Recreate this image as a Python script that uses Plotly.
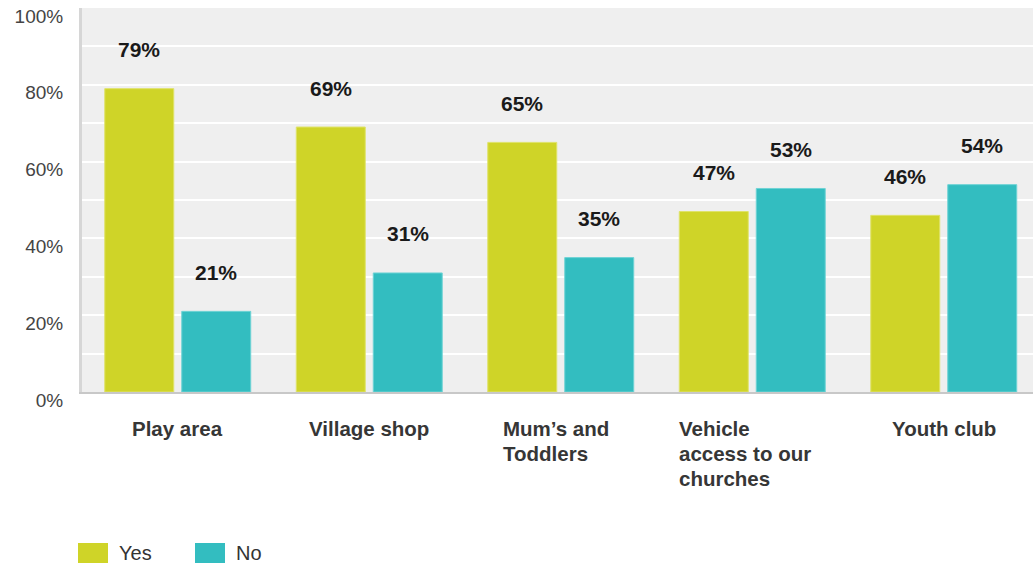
import plotly.graph_objects as go

categories = ["Play area", "Village shop", "Mum\u2019s and Toddlers", "Vehicle access to our churches", "Youth club"]
category_lines = [["Play area"], ["Village shop"], ["Mum\u2019s and", "Toddlers"], ["Vehicle", "access to our", "churches"], ["Youth club"]]
yes_values = [79, 69, 65, 47, 46]
no_values = [21, 31, 35, 53, 54]
series_names = ["Yes", "No"]
tick_values = [0, 20, 40, 60, 80, 100]
tick_labels = ["0%", "20%", "40%", "60%", "80%", "100%"]

YES_COLOR = "#cfd428"
NO_COLOR = "#33bdc0"
FONT = "Liberation Sans, Arial, sans-serif"

W, H = 1033, 565
ML, MT, MB = 82, 8, 173
CAT_PX = 191.5
x_end = (W - ML) / CAT_PX - 0.5

xs = list(range(len(categories)))

fig = go.Figure()
fig.add_trace(go.Bar(x=xs, y=yes_values, name=series_names[0], marker=dict(color=YES_COLOR, line=dict(color="#dfe36a", width=1)), hoverinfo="skip"))
fig.add_trace(go.Bar(x=xs, y=no_values, name=series_names[1], marker=dict(color=NO_COLOR, line=dict(color="#6fd3d5", width=1)), hoverinfo="skip"))

annotations = []
off = 0.201
for i, (yv, nv) in enumerate(zip(yes_values, no_values)):
    for dx, v in ((-off, yv), (off, nv)):
        annotations.append(dict(x=i + dx, y=v, xref="x", yref="y", text=f"<b>{v}%</b>",
                                showarrow=False, yanchor="middle", yshift=39,
                                font=dict(family=FONT, size=21, color="#1a1a1a")))

# category labels: single lines centered, multi-line blocks left aligned
block_left_px = {2: -60, 3: -75}
for i, lines in enumerate(category_lines):
    for j, line in enumerate(lines):
        a = dict(x=i, y=0, xref="x", yref="y", text=f"<b>{line}</b>", showarrow=False,
                 yanchor="middle", yshift=-36 - 25 * j,
                 font=dict(family=FONT, size=20.5, color="#363636"))
        if len(lines) > 1:
            a.update(xanchor="left", xshift=block_left_px[i])
        else:
            a.update(xanchor="center")
        annotations.append(a)

# legend
legend_items = [(series_names[0], YES_COLOR, 78, 117), (series_names[1], NO_COLOR, 195, 234)]
shapes = []
for name, col, sx, tx in legend_items:
    shapes.append(dict(type="rect", xref="paper", yref="paper",
                       x0=(sx - ML) / (W - ML), x1=(sx + 30 - ML) / (W - ML),
                       y0=-(543 - (H - MB)) / (H - MT - MB), y1=-(563 - (H - MB)) / (H - MT - MB),
                       fillcolor=col, line=dict(width=0), layer="above"))
    annotations.append(dict(x=(tx - ML) / (W - ML), y=-(553 - (H - MB)) / (H - MT - MB),
                            xref="paper", yref="paper", text=name, showarrow=False,
                            xanchor="left", yanchor="middle",
                            font=dict(family=FONT, size=20, color="#333333")))

fig.update_layout(
    width=W, height=H,
    margin=dict(l=ML, r=0, t=MT, b=MB, pad=0, autoexpand=False),
    paper_bgcolor="white", plot_bgcolor="#efefef",
    barmode="group", bargap=0.196, bargroupgap=0.104,
    showlegend=False,
    annotations=annotations, shapes=shapes,
    font=dict(family=FONT),
)
fig.update_xaxes(range=[-0.5, x_end], showticklabels=False, showgrid=False, zeroline=False,
                 showline=True, linecolor="#c8c8c8", linewidth=2, ticks="", fixedrange=True,
                 automargin=False)
fig.update_yaxes(range=[0, 100], tickvals=tick_values, ticktext=tick_labels,
                 showgrid=True, gridcolor="white", gridwidth=2,
                 minor=dict(dtick=10, showgrid=True, gridcolor="white", gridwidth=2),
                 zeroline=False, showline=True, linecolor="#d6d6d6", linewidth=3,
                 ticks="", ticklabelstandoff=12, ticklabelshift=8, ticklabeloverflow="allow",
                 tickfont=dict(family=FONT, size=19, color="#444444"), fixedrange=True,
                 automargin=False)

fig.write_html("out.html", config={"displayModeBar": False},
               post_script="document.body.style.margin='0';document.body.style.overflow='hidden';")
